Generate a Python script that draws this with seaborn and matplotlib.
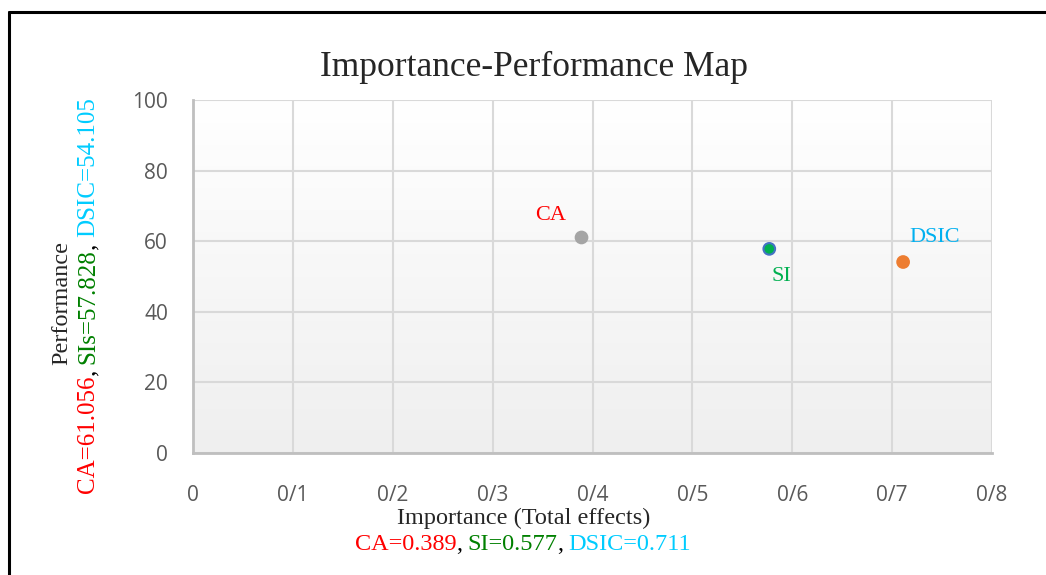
import numpy as np
import pandas as pd
import seaborn as sns
import matplotlib.pyplot as plt
from matplotlib.lines import Line2D
from matplotlib.colors import LinearSegmentedColormap

# data
constructs = ['CA', 'SI', 'DSIC']
importance = [0.389, 0.577, 0.711]
performance = [61.056, 57.828, 54.105]
point_colors = ['#a5a5a5', '#00b050', '#ed7d31']
edge_colors = ['#a5a5a5', '#4472c4', '#ed7d31']
label_colors = ['#ff0000', '#00b050', '#00b0f0']
x_ticks = [0, 0.1, 0.2, 0.3, 0.4, 0.5, 0.6, 0.7, 0.8]
x_tick_labels = ['0', '0/1', '0/2', '0/3', '0/4', '0/5', '0/6', '0/7', '0/8']
y_ticks = [0, 20, 40, 60, 80, 100]

df = pd.DataFrame({'construct': constructs, 'importance': importance, 'performance': performance})

sns.set_style('white')
plt.rcParams['font.family'] = ['Liberation Serif', 'DejaVu Serif']

W, H = 1046, 575
fig = plt.figure(figsize=(W / 100, H / 100), dpi=100)
ax = fig.add_axes([193 / W, 1 - 453 / H, 799 / W, 353 / H])

# gradient background like excel plot area
grad = np.linspace(0, 1, 256).reshape(-1, 1)
ax.imshow(grad, extent=[0, 0.8, 0, 100], aspect='auto',
          cmap=LinearSegmentedColormap.from_list('g', ['#efefef', '#ffffff']),
          origin='lower', zorder=0)

sns.scatterplot(data=df, x='importance', y='performance', hue='construct', palette=point_colors,
                s=70, edgecolor=edge_colors, linewidth=1.5, legend=False, ax=ax, zorder=3)

ax.set_xlim(0, 0.8)
ax.set_ylim(0, 100)
ax.set_xticks(x_ticks)
ax.set_xticklabels(x_tick_labels)
ax.set_yticks(y_ticks)
ax.set_axisbelow(True)
ax.grid(True, color='#d9d9d9', linewidth=1.5)
for side in ['top', 'right']:
    ax.spines[side].set_visible(False)
for side in ['left', 'bottom']:
    ax.spines[side].set_color('#bfbfbf')
    ax.spines[side].set_linewidth(2)
ax.tick_params(axis='both', length=0, labelsize=15, labelcolor='#595959')
ax.tick_params(axis='x', pad=23)
ax.tick_params(axis='y', pad=18)
for lab in ax.get_xticklabels() + ax.get_yticklabels():
    lab.set_family('Open Sans')
ax.set_xlabel('')
ax.set_ylabel('')

# point labels
offsets = [(-22, 16), (9, -20), (23, 18)]
for name, xv, yv, c, off in zip(constructs, importance, performance, label_colors, offsets):
    ax.annotate(name, (xv, yv), xytext=off, textcoords='offset points', ha='center', va='center',
                fontsize=16, color=c)

fig.text(534 / W, 1 - 67 / H, 'Importance-Performance Map', ha='center', va='center', fontsize=25.5)
fig.text(524 / W, 1 - 518 / H, 'Importance (Total effects)', ha='center', va='center', fontsize=17.5)
fig.text(62 / W, 1 - 303 / H, 'Performance', ha='center', va='center', rotation=90, fontsize=17.5)


def colored_line(parts, cx, cy, rotation=0, fontsize=15):
    # place text pieces one after another, centred on (cx, cy) in pixels from top-left
    renderer = fig.canvas.get_renderer()
    gap = fontsize * 0.3
    texts = []
    sizes = []
    for s, c in parts:
        t = fig.text(0, 0, s, fontsize=fontsize, color=c, rotation=rotation, ha='left', va='center')
        bb = t.get_window_extent(renderer)
        sizes.append(bb.height if rotation else bb.width)
        texts.append(t)
    total = sum(sizes) + gap * sum(1 for s, c in parts if s == ',')
    pos = -total / 2
    for (s, c), t, sz in zip(parts, texts, sizes):
        if rotation:
            t.set_ha('center')
            t.set_va('bottom')
            t.set_position((cx / W, 1 - cy / H + pos / H))
        else:
            t.set_position(((cx + pos) / W, 1 - cy / H))
        pos += sz
        if s == ',':
            pos += gap


colored_line([('CA=0.389', '#ff0000'), (',', 'black'), ('SI=0.577', '#008000'), (',', 'black'),
              ('DSIC=0.711', '#00ccff')], 523, 545, fontsize=17.5)
colored_line([('CA=61.056', '#ff0000'), (',', 'black'), ('SIs=57.828', '#008000'), (',', 'black'),
              ('DSIC=54.105', '#00ccff')], 88, 295, rotation=90, fontsize=18)

# frame lines
fig.add_artist(Line2D([9 / W, 1], [1 - 12 / H, 1 - 12 / H], color='black', linewidth=2.2, transform=fig.transFigure))
fig.add_artist(Line2D([9 / W, 9 / W], [0, 1 - 12 / H], color='black', linewidth=2.2, transform=fig.transFigure))

fig.savefig('out.png', dpi=100)
